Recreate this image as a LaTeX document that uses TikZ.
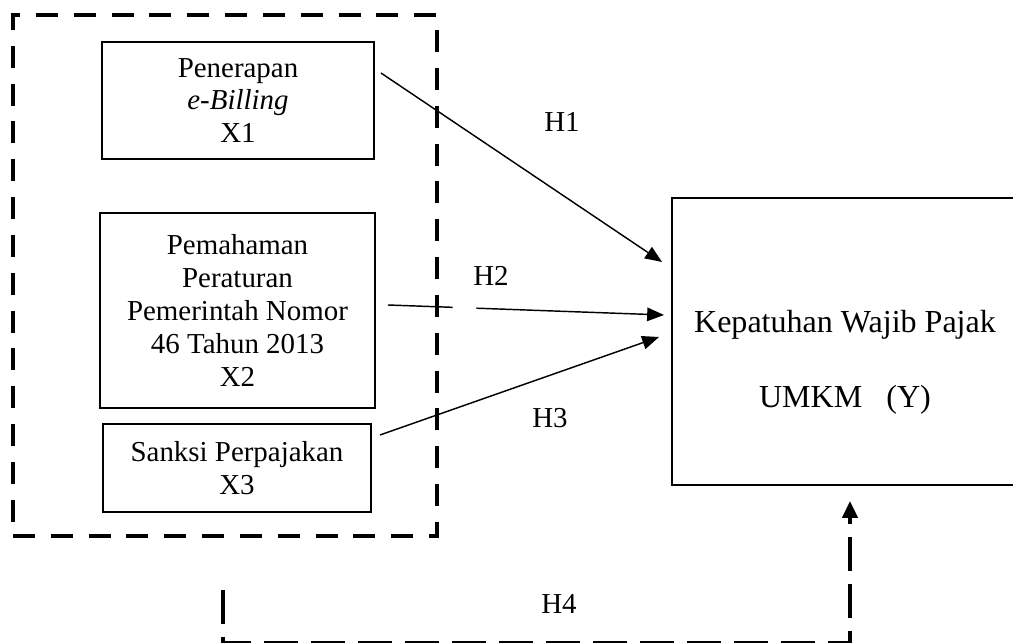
\documentclass[tikz,border=0pt]{standalone}
\usepackage{fontspec}
\setmainfont{Liberation Serif}
\usetikzlibrary{positioning}
\usetikzlibrary{calc,arrows.meta}
\newcommand{\pxu}{0.415pt}

\begin{document}
\begin{tikzpicture}[x=0.415pt, y=-0.415pt,
varnode/.style={rectangle, draw=black, line width=0.8pt, align=center, inner sep=0pt, font=\fontsize{12}{13.6}\selectfont},
groupnode/.style={rectangle, draw=black, line width=1.7pt, dash pattern=on 9.1pt off 6.6pt},
ynode/.style={rectangle, draw=black, line width=0.8pt},
ytext/.style={align=center, inner sep=0pt, font=\fontsize{13.3}{31}\selectfont},
hypline/.style={line width=0.6pt, -{Triangle[length=7pt,width=5.6pt]}},
moderline/.style={line width=1.7pt, dash pattern=on 14pt off 5.5pt, -{Triangle[length=7pt,width=6.2pt]}},
hyplabel/.style={font=\fontsize{12}{14}\selectfont},
]
\useasboundingbox (0,0) rectangle (1013,643);
\clip (0,0) rectangle (1013,643);
%Nodes
\node[groupnode, minimum width={424*\pxu}, minimum height={521*\pxu}] (grp) at (225,275.5) {};
\node[varnode, minimum width={272*\pxu}, minimum height={117*\pxu}] (x1) at (238,100.5) {Penerapan\\\textit{e-Billing}\\X1};
\node[varnode, minimum width={275*\pxu}, minimum height={195*\pxu}] (x2) at (237.5,310.5) {Pemahaman\\Peraturan\\Pemerintah Nomor\\46 Tahun 2013\\X2};
\node[varnode, minimum width={268*\pxu}, minimum height={88*\pxu}] (x3) at (237,468) {Sanksi Perpajakan\\X3};
\node[ynode, minimum width={346*\pxu}, minimum height={287*\pxu}] (y) at (845,341.5) {};
\node[ytext] (ylabel) at (845,362) {Kepatuhan Wajib Pajak\\UMKM\ \ \ (Y)};
%Lines
\coordinate (h2s) at ($(x2.east)+(12,-5.5)$);
\coordinate (h2e) at ($(y.west)+(-7,-26.5)$);
\draw[hypline] ($(x1.east)+(6,-27.5)$) -- ($(y.west)+(-9,-79.5)$);
\draw[line width=0.6pt] (h2s) -- ($(h2s)!0.234!(h2e)$);
\draw[hypline] ($(h2s)!0.32!(h2e)$) -- (h2e);
\draw[hypline] ($(x3.east)+(8,-33)$) -- ($(y.west)+(-12,-4.5)$);
\draw[moderline] ($(grp.south)+(-2,52)$) -- ++(0,53) -| ($(y.south)+(5,15)$);
%Text
\node[hyplabel] (h1) at (562,122) {H1};
\node[hyplabel] (h2) at (491,276) {H2};
\node[hyplabel] (h3) at (550,418) {H3};
\node[hyplabel] (h4) at (559,604) {H4};
\end{tikzpicture}
\end{document}
